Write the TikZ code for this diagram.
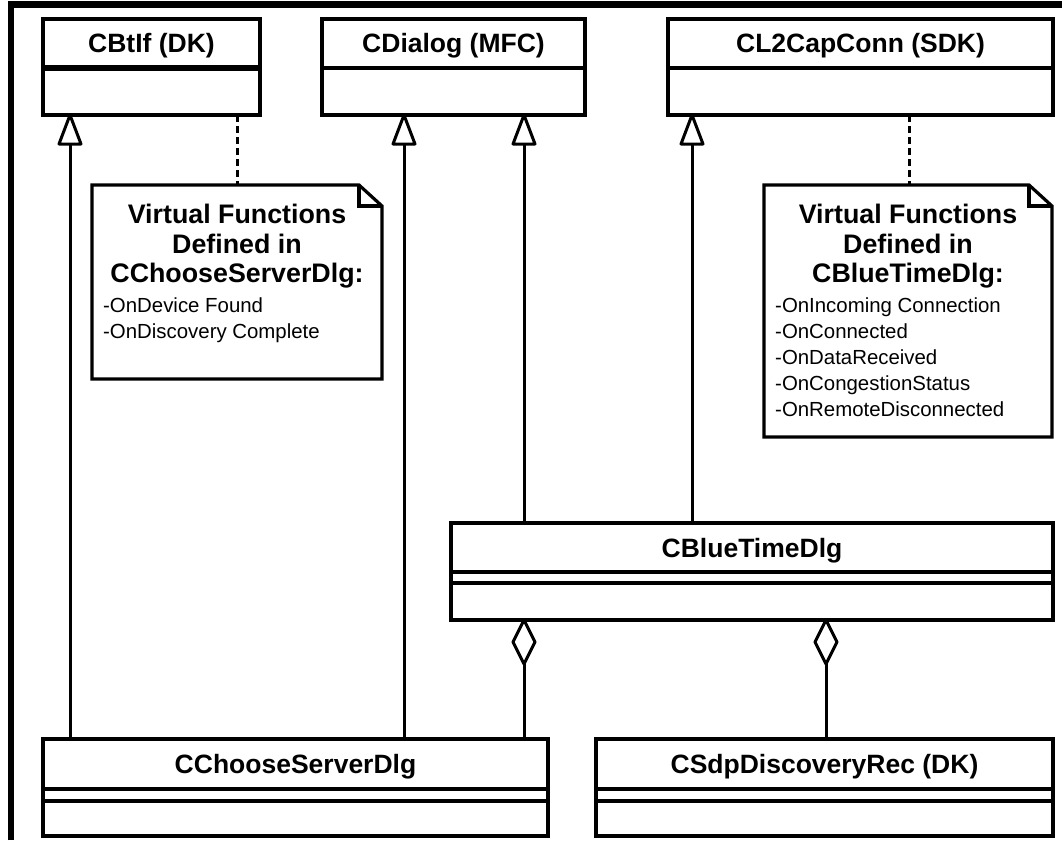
\documentclass[tikz,border=0pt]{standalone}
\usepackage{fontspec}
\setmainfont{Liberation Sans}
\usetikzlibrary{calc}

\tikzset{
  classbox/.style={draw, line width=3.2pt, fill=white, inner sep=0pt, outer sep=0pt, anchor=north west},
  clsname/.style={font=\fontsize{26.5}{30}\selectfont\bfseries, inner sep=0pt, anchor=base},
  divider/.style={line width=3.2pt},
  notebox/.style={draw=none, inner sep=0pt, outer sep=0pt, anchor=north west},
  noteline/.style={line width=3.2pt, line join=miter},
  notehead/.style={font=\fontsize{26.8}{30}\selectfont\bfseries, inner sep=0pt, anchor=base},
  noteitem/.style={font=\fontsize{20.4}{26}\selectfont, inner sep=0pt, anchor=base west},
  connector/.style={line width=3pt},
  tipshape/.style={line width=3pt, line join=round, fill=white},
  noteanchor/.style={connector, dash pattern=on 7pt off 4pt},
}
% hollow triangle (generalisation) with its apex on the given point
\newcommand\gentip[1]{\draw[tipshape] (#1) -- ++(-11,29) -- ++(22,0) -- cycle;}
% hollow diamond (aggregation) with its top vertex on the given point
\newcommand\aggtip[1]{\draw[tipshape] (#1) -- ++(-11,22) -- ++(11,22) -- ++(11,-22) -- cycle;}

\begin{document}
\begin{tikzpicture}[x=1pt, y=-1pt]
  \useasboundingbox (0,0) rectangle (1062,840);
  \fill[white] (0,0) rectangle (1062,840);

  % outer frame
  \draw[line width=6.5pt, line join=miter] (11,840) -- (11,4.5) -- (1062,4.5);

  % ---- base classes ----
  \node[classbox, minimum width=217pt, minimum height=96pt] (btif) at (43,19) {};
  \draw[line width=5.5pt] ([yshift=-49pt]btif.north west) -- ([yshift=-49pt]btif.north east);
  \node[clsname] (btif-name) at ([yshift=-34pt]btif.north) {CBtIf (DK)};

  \node[classbox, minimum width=263pt, minimum height=96pt] (dlg) at (322,19) {};
  \draw[divider] ([yshift=-49pt]dlg.north west) -- ([yshift=-49pt]dlg.north east);
  \node[clsname] (dlg-name) at ([yshift=-34pt]dlg.north) {CDialog (MFC)};

  \node[classbox, minimum width=385pt, minimum height=96pt] (l2) at (668,19) {};
  \draw[divider] ([yshift=-49pt]l2.north west) -- ([yshift=-49pt]l2.north east);
  \node[clsname] (l2-name) at ([yshift=-34pt]l2.north) {CL2CapConn (SDK)};

  % ---- middle class ----
  \node[classbox, minimum width=602pt, minimum height=97pt] (blue) at (451,523) {};
  \draw[divider] ([yshift=-49pt]blue.north west) -- ([yshift=-49pt]blue.north east);
  \draw[divider] ([yshift=-60pt]blue.north west) -- ([yshift=-60pt]blue.north east);
  \node[clsname] (blue-name) at ([yshift=-34pt]blue.north) {CBlueTimeDlg};

  % ---- bottom classes ----
  \node[classbox, minimum width=505pt, minimum height=97pt] (csd) at (43,739) {};
  \draw[divider] ([yshift=-50pt]csd.north west) -- ([yshift=-50pt]csd.north east);
  \draw[divider] ([yshift=-62pt]csd.north west) -- ([yshift=-62pt]csd.north east);
  \node[clsname] (csd-name) at ([yshift=-34pt]csd.north) {CChooseServerDlg};

  \node[classbox, minimum width=457pt, minimum height=97pt] (sdp) at (596,739) {};
  \draw[divider] ([yshift=-50pt]sdp.north west) -- ([yshift=-50pt]sdp.north east);
  \draw[divider] ([yshift=-62pt]sdp.north west) -- ([yshift=-62pt]sdp.north east);
  \node[clsname] (sdp-name) at ([yshift=-34pt]sdp.north) {CSdpDiscoveryRec (DK)};

  % ---- notes ----
  \node[notebox, minimum width=290pt, minimum height=194pt] (note1) at (92,185) {};
  \draw[noteline] (note1.north west) -- ([xshift=-23pt]note1.north east)
        -- ([yshift=-21pt]note1.north east) -- (note1.south east)
        -- (note1.south west) -- cycle;
  \draw[noteline] ([xshift=-23pt]note1.north east) |- ([yshift=-21pt]note1.north east);
  \node[notehead] (n1-h1) at ([yshift=-38pt]note1.north) {Virtual Functions};
  \node[notehead] (n1-h2) at ([yshift=-68pt]note1.north) {Defined in};
  \node[notehead] (n1-h3) at ([yshift=-97pt]note1.north) {CChooseServerDlg:};
  \node[noteitem] (n1-i1) at ([xshift=11pt,yshift=-127pt]note1.north west) {-OnDevice Found};
  \node[noteitem] (n1-i2) at ([xshift=11pt,yshift=-153pt]note1.north west) {-OnDiscovery Complete};

  \node[notebox, minimum width=288pt, minimum height=252pt] (note2) at (764,185) {};
  \draw[noteline] (note2.north west) -- ([xshift=-23pt]note2.north east)
        -- ([yshift=-21pt]note2.north east) -- (note2.south east)
        -- (note2.south west) -- cycle;
  \draw[noteline] ([xshift=-23pt]note2.north east) |- ([yshift=-21pt]note2.north east);
  \node[notehead] (n2-h1) at ([yshift=-38pt]note2.north) {Virtual Functions};
  \node[notehead] (n2-h2) at ([yshift=-68pt]note2.north) {Defined in};
  \node[notehead] (n2-h3) at ([yshift=-97pt]note2.north) {CBlueTimeDlg:};
  \node[noteitem] (n2-i1) at ([xshift=11pt,yshift=-127pt]note2.north west) {-OnIncoming Connection};
  \node[noteitem] (n2-i2) at ([xshift=11pt,yshift=-153pt]note2.north west) {-OnConnected};
  \node[noteitem] (n2-i3) at ([xshift=11pt,yshift=-179pt]note2.north west) {-OnDataReceived};
  \node[noteitem] (n2-i4) at ([xshift=11pt,yshift=-205pt]note2.north west) {-OnCongestionStatus};
  \node[noteitem] (n2-i5) at ([xshift=11pt,yshift=-231pt]note2.north west) {-OnRemoteDisconnected};

  % ---- note anchors ----
  \draw[noteanchor] ([xshift=194pt]btif.south west) -- ([xshift=145pt]note1.north west);
  \draw[noteanchor] ([xshift=241pt]l2.south west) -- ([xshift=145pt]note2.north west);

  % ---- generalisations ----
  \draw[connector] ([xshift=27pt]csd.north west) -- ([xshift=27pt]btif.south west);
  \gentip{[xshift=27pt]btif.south west}
  \draw[connector] ([xshift=361pt]csd.north west) -- ([xshift=82pt]dlg.south west);
  \gentip{[xshift=82pt]dlg.south west}
  \draw[connector] ([xshift=73pt]blue.north west) -- ([xshift=202pt]dlg.south west);
  \gentip{[xshift=202pt]dlg.south west}
  \draw[connector] ([xshift=241pt]blue.north west) -- ([xshift=24pt]l2.south west);
  \gentip{[xshift=24pt]l2.south west}

  % ---- aggregations ----
  \draw[connector] ([xshift=481pt]csd.north west) -- ([xshift=73pt]blue.south west);
  \aggtip{[xshift=73pt]blue.south west}
  \draw[connector] ([xshift=230pt]sdp.north west) -- ([xshift=375pt]blue.south west);
  \aggtip{[xshift=375pt]blue.south west}
\end{tikzpicture}
\end{document}
